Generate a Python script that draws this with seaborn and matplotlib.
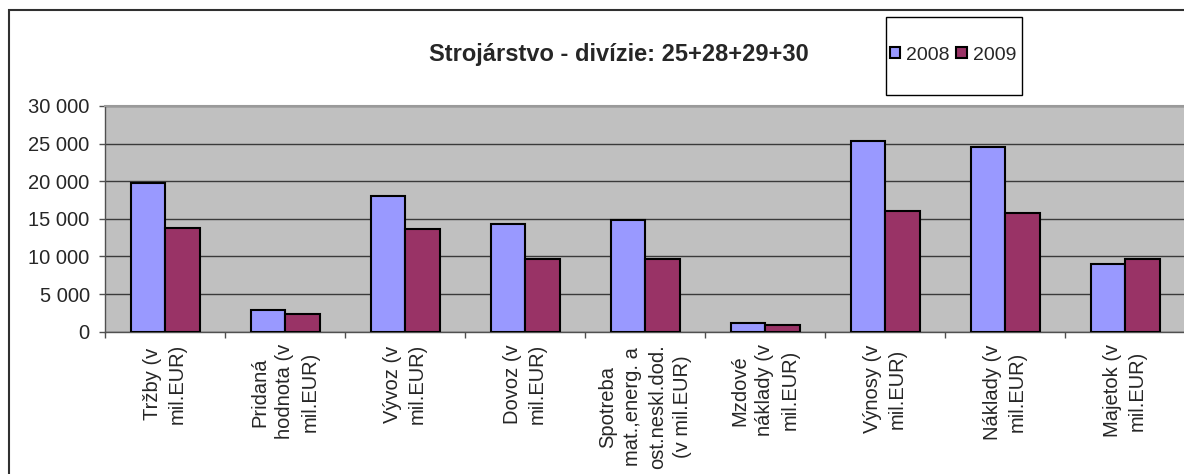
import matplotlib
matplotlib.use("Agg")
import matplotlib.pyplot as plt
import numpy as np
import pandas as pd
import seaborn as sns
from matplotlib.patches import Rectangle
from matplotlib.ticker import FuncFormatter, FixedLocator

# data (mil. EUR)
categories = [
    "Tržby (v\nmil.EUR)",
    "Pridaná\nhodnota (v\nmil.EUR)",
    "Vývoz (v\nmil.EUR)",
    "Dovoz (v\nmil.EUR)",
    "Spotreba\nmat.,energ. a\nost.neskl.dod.\n(v mil.EUR)",
    "Mzdové\nnáklady (v\nmil.EUR)",
    "Výnosy (v\nmil.EUR)",
    "Náklady (v\nmil.EUR)",
    "Majetok (v\nmil.EUR)",
]
years = ["2008", "2009"]
values_2008 = [19700, 2900, 18100, 14300, 14800, 1200, 25300, 24500, 9000]
values_2009 = [13800, 2400, 13600, 9700, 9700, 950, 16000, 15800, 9700]
y_ticks = [0, 5000, 10000, 15000, 20000, 25000, 30000]
title = "Strojárstvo - divízie: 25+28+29+30"
colors = ["#9999FF", "#993366"]

df = pd.DataFrame({
    "kategoria": categories * 2,
    "rok": [years[0]] * len(categories) + [years[1]] * len(categories),
    "hodnota": values_2008 + values_2009,
})

sns.set_style("white")
plt.rcParams["font.family"] = ["Liberation Sans", "DejaVu Sans"]

fig = plt.figure(figsize=(11.84, 4.74), dpi=100)
ax = fig.add_axes([105 / 1184, 142.3 / 474, 1080 / 1184, 225.7 / 474])

sns.barplot(data=df, x="kategoria", y="hodnota", hue="rok", order=categories,
            palette=colors, saturation=1, edgecolor="black", linewidth=1.5,
            width=0.575, gap=0, ax=ax, zorder=3)

ax.set_facecolor("#C0C0C0")
ax.set_ylim(0, 30000)
ax.set_xlim(-0.5, len(categories) - 0.5)
ax.set_xlabel("")
ax.set_ylabel("")
ax.yaxis.set_major_locator(FixedLocator(y_ticks))
ax.yaxis.set_major_formatter(FuncFormatter(lambda v, p: f"{int(v):,}".replace(",", " ")))
ax.grid(axis="y", color="#3a3a3a", linewidth=1.0, zorder=1)
ax.set_axisbelow(True)

for s in ["left", "bottom"]:
    ax.spines[s].set_color("#505050")
    ax.spines[s].set_linewidth(1.0)
ax.spines["top"].set_color("#9a9a9a")
ax.spines["top"].set_linewidth(1.5)
ax.spines["right"].set_visible(False)

ax.tick_params(axis="y", direction="out", length=4, width=1, color="#505050",
               labelsize=14.5, pad=7, left=True)
ax.tick_params(axis="x", which="major", length=0, pad=9)
ax.set_xticks(np.arange(-0.5, len(categories), 1.0), minor=True)
ax.tick_params(axis="x", which="minor", direction="out", length=4, width=1,
               color="#505050", bottom=True)
for lab in ax.get_xticklabels():
    lab.set_rotation(90)
    lab.set_fontsize(14.5)
    lab.set_ha("center")
    lab.set_va("top")
    lab.set_multialignment("center")
    lab.set_linespacing(1.4)

# legend in its own box
ax.get_legend().remove()
handles = [plt.Rectangle((0, 0), 1, 1, facecolor=c, edgecolor="black", linewidth=1.5)
           for c in colors]
fig.legend(handles, years, loc="center", bbox_to_anchor=(953 / 1184, 1 - 55 / 474),
           ncol=2, frameon=False, fontsize=14, handlelength=0.55, handleheight=0.55,
           handletextpad=0.3, columnspacing=0.35, borderpad=0)
fig.add_artist(Rectangle((886 / 1184, 1 - 95 / 474), 136 / 1184, 78 / 474,
                         transform=fig.transFigure, fill=False,
                         edgecolor="black", linewidth=1.0))

# outer chart frame
fig.add_artist(Rectangle((8.5 / 1184, -0.2), 1.2, 1.2 - 10.5 / 474,
                         transform=fig.transFigure, fill=False,
                         edgecolor="#303030", linewidth=1.5))

fig.text(619 / 1184, 1 - 55 / 474, title, ha="center", va="center",
         fontsize=17, fontweight="bold")

fig.savefig("out.png", dpi=100)
